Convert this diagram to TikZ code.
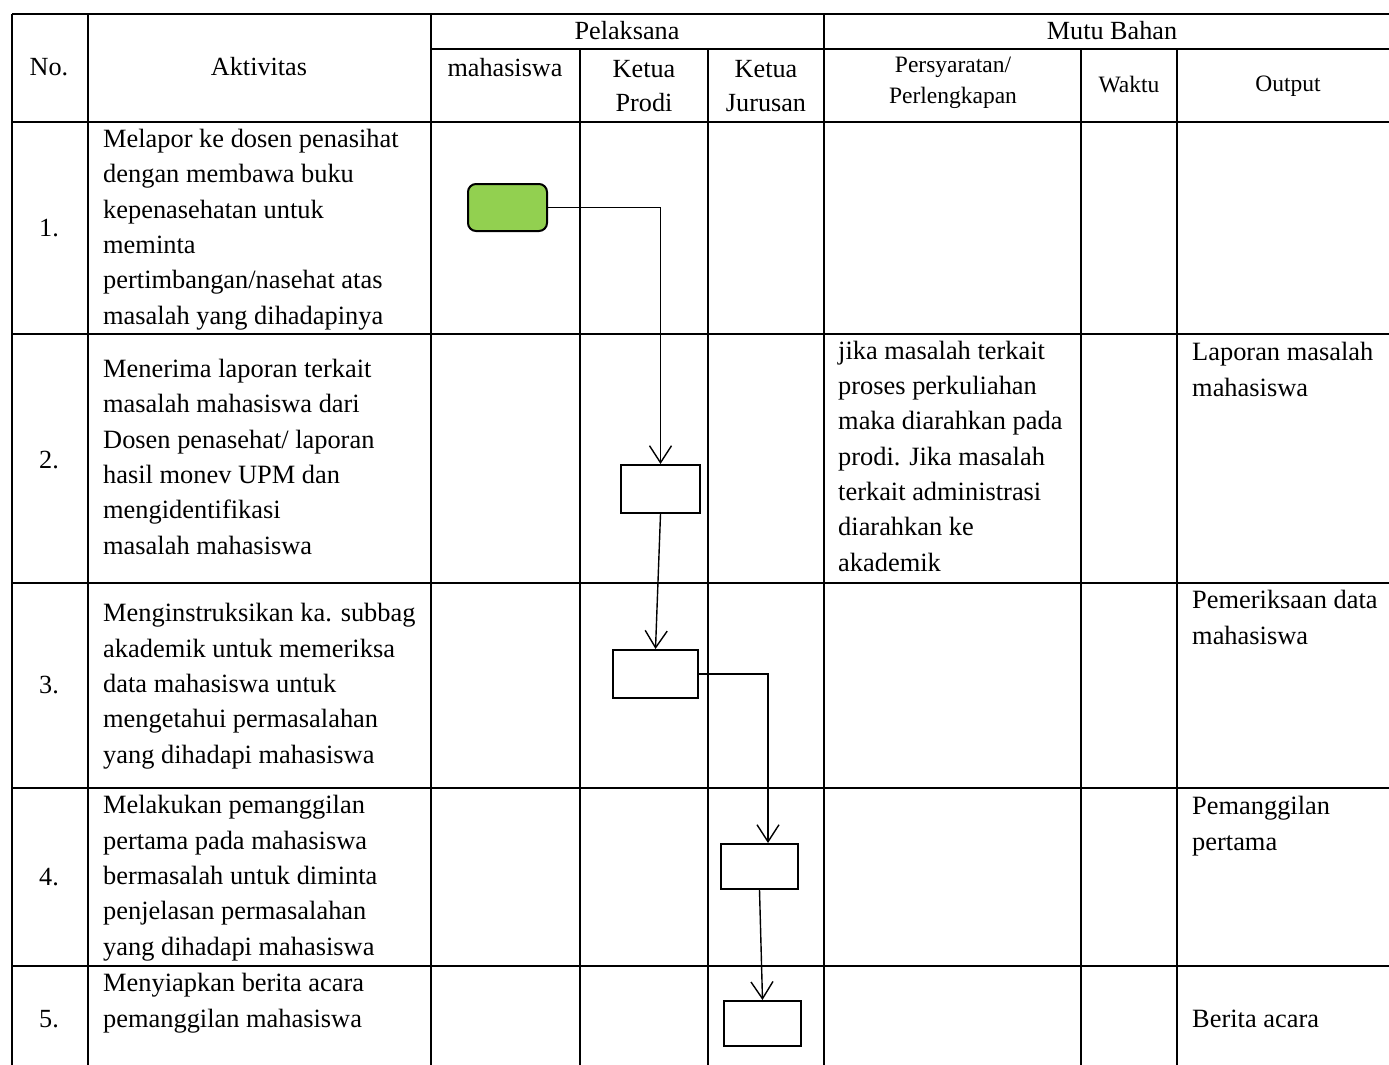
\documentclass[tikz,border=0pt]{standalone}
\usepackage{fontspec}
\setmainfont{Liberation Serif}
\usetikzlibrary{arrows.meta}
\definecolor{startgreen}{RGB}{146,208,80}

\begin{document}
\begin{tikzpicture}[
  x=1pt, y=-1pt,
  grid/.style={line width=1.4pt},
  % anchor on the baseline of the last line
  cell/.style={
    anchor=base west, align=left, inner sep=0pt,
    font=\fontsize{26.4}{35.3}\selectfont
  },
  head/.style={align=center, inner sep=0pt, font=\fontsize{26.2}{34}\selectfont},
  headsmall/.style={align=center, inner sep=0pt, font=\fontsize{23.5}{31}\selectfont},
  act/.style={draw, line width=2pt, inner sep=0pt},
  start/.style={act, rounded corners=8pt, fill=startgreen},
  arrow/.style={-{Straight Barb[length=17pt,width=22pt]}, line width=1.4pt}
]
\useasboundingbox (0,0) rectangle (1389,1065);

% --- Kerangka tabel ---
\draw[grid] (12,14) -- (1389,14);
\draw[grid] (431,49) -- (1389,49);
\draw[grid] (12,122) -- (1389,122);
\draw[grid] (12,334) -- (1389,334);
\draw[grid] (12,583) -- (1389,583);
\draw[grid] (12,788) -- (1389,788);
\draw[grid] (12,966) -- (1389,966);
\draw[grid] (12,14) -- (12,1065);
\draw[grid] (88,14) -- (88,1065);
\draw[grid] (431,14) -- (431,1065);
\draw[grid] (824,14) -- (824,1065);
\draw[grid] (580,49) -- (580,1065);
\draw[grid] (708,49) -- (708,1065);
\draw[grid] (1081,49) -- (1081,1065);
\draw[grid] (1177,49) -- (1177,1065);

% --- Kepala tabel ---
\node[head] (hno) at (49,67) {No.};
\node[head] (hakt) at (259,67) {Aktivitas};
\node[head] (hpel) at (627,31) {Pelaksana};
\node[head] (hmutu) at (1112,31) {Mutu Bahan};
\node[head] (hmhs) at (505,68) {mahasiswa};
\node[head] (hprodi) at (644,86) {Ketua\\Prodi};
\node[head] (hjur) at (766,86) {Ketua\\Jurusan};
\node[headsmall] (hsyarat) at (953,83) {Persyaratan/\\Perlengkapan};
\node[headsmall] (hwaktu) at (1129,85) {Waktu};
\node[headsmall] (hout) at (1288,86) {Output};

% --- Nomor ---
\node[head] (n1) at (49,228) {1.};
\node[head] (n2) at (49,460) {2.};
\node[head] (n3) at (49,685) {3.};
\node[head] (n4) at (49,877) {4.};
\node[head] (n5) at (49,1019) {5.};

% --- Aktivitas ---
\node[cell] (akt1) at (103,324) {Melapor ke dosen penasihat\\dengan membawa buku\\kepenasehatan untuk\\meminta\\pertimbangan/nasehat atas\\masalah yang dihadapinya};
\node[cell] (akt2) at (103,554) {Menerima laporan terkait\\masalah mahasiswa dari\\Dosen penasehat/ laporan\\hasil monev UPM dan\\mengidentifikasi\\masalah mahasiswa};
\node[cell] (akt3) at (103,763) {Menginstruksikan ka. subbag\\akademik untuk memeriksa\\data mahasiswa untuk\\mengetahui permasalahan\\yang dihadapi mahasiswa};
\node[cell] (akt4) at (103,955) {Melakukan pemanggilan\\pertama pada mahasiswa\\bermasalah untuk diminta\\penjelasan permasalahan\\yang dihadapi mahasiswa};
\node[cell] (akt5) at (103,1027) {Menyiapkan berita acara\\pemanggilan mahasiswa};

% --- Persyaratan dan output ---
\node[cell] (syarat2) at (838,571) {jika masalah terkait\\proses perkuliahan\\maka diarahkan pada\\prodi. Jika masalah\\terkait administrasi\\diarahkan ke\\akademik};
\node[cell] (out2) at (1192,396) {Laporan masalah\\mahasiswa};
\node[cell] (out3) at (1192,644) {Pemeriksaan data\\mahasiswa};
\node[cell] (out4) at (1192,850) {Pemanggilan\\pertama};
\node[cell] (out5) at (1192,1027) {Berita acara};

% --- Simbol alur ---
\node[start, minimum width=79pt, minimum height=47pt] (s1) at (507.5,207.5) {};
\node[act, minimum width=79pt, minimum height=48pt] (a2) at (660.5,489) {};
\node[act, minimum width=85pt, minimum height=48pt] (a3) at (655.5,674) {};
\node[act, minimum width=77pt, minimum height=45pt] (a4) at (759.5,866.5) {};
\node[act, minimum width=77pt, minimum height=45pt] (a5) at (762.5,1023.5) {};

% --- Panah ---
\draw[arrow] (s1.east) -| (a2.north);
\draw[arrow] (a2.south) -- (a3.north);
\draw[arrow] (a3.east) -| ([xshift=8.5pt]a4.north);
\draw[arrow] (a4.south) -- (a5.north);

\end{tikzpicture}
\end{document}
